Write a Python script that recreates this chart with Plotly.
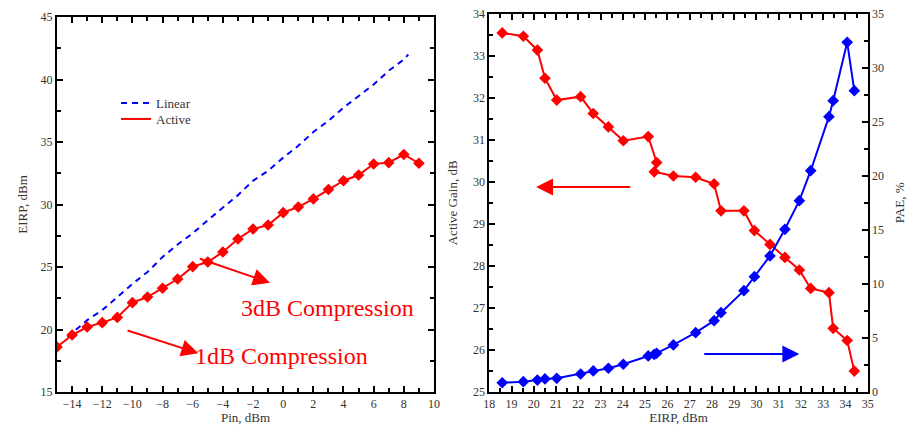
import plotly.graph_objects as go

# ---- Left panel: EIRP vs input power ----
pin_active = [-15, -14, -13, -12, -11, -10, -9, -8, -7, -6, -5, -4, -3, -2, -1,
              0, 1, 2, 3, 4, 5, 6, 7, 8, 9]
eirp_active = [18.6, 19.56, 20.2, 20.55, 20.97, 22.15, 22.6, 23.3, 24.04, 25.03,
               25.4, 26.2, 27.24, 28.04, 28.36, 29.35, 29.8, 30.45, 31.2, 31.9,
               32.36, 33.24, 33.35, 34.0, 33.3]

pin_linear = [-14.3, -13, -12, -11, -10, -9, -8, -7, -6, -5, -4, -3, -2, -1,
              0, 1, 2, 3, 4, 5, 6, 7, 8, 8.3]
eirp_linear = [19.4, 20.75, 21.55, 22.6, 23.65, 24.6, 25.8, 26.8, 27.7, 28.75,
               29.75, 30.75, 31.9, 32.7, 33.75, 34.7, 35.8, 36.7, 37.75, 38.7,
               39.6, 40.7, 41.6, 42.0]

# ---- Right panel: gain and PAE vs EIRP ----
eirp_out = [18.58, 19.53, 20.16, 20.5, 21.03, 22.1, 22.67, 23.35, 24.02, 25.14,
            25.52, 25.41, 26.27, 27.27, 28.1, 28.41, 29.44, 29.91, 30.61, 31.28,
            31.93, 32.44, 33.26, 33.45, 34.08, 34.4]
gain_db = [33.55, 33.47, 33.14, 32.47, 31.95, 32.03, 31.63, 31.31, 30.98, 31.08,
           30.46, 30.24, 30.14, 30.11, 29.95, 29.31, 29.31, 28.84, 28.51, 28.2,
           27.9, 27.46, 27.36, 26.51, 26.22, 25.49]
pae_pct = [0.83, 0.93, 1.08, 1.18, 1.24, 1.64, 1.92, 2.17, 2.54, 3.31,
           3.56, 3.45, 4.33, 5.47, 6.58, 7.32, 9.36, 10.66, 12.58, 15.05,
           17.7, 20.48, 25.49, 26.97, 32.38, 27.9]

RED = "#ff0000"
BLUE = "#0000ff"
SERIF = "Liberation Serif, Times New Roman, DejaVu Serif, serif"
TXT = "#333333"

fig = go.Figure()

fig.add_trace(go.Scatter(x=pin_linear, y=eirp_linear, mode="lines", name="Linear",
                         line=dict(color=BLUE, width=2, dash="6px,5px"),
                         xaxis="x", yaxis="y", legend="legend"))
fig.add_trace(go.Scatter(x=pin_active, y=eirp_active, mode="lines", name="Active",
                         line=dict(color=RED, width=2), xaxis="x", yaxis="y",
                         legend="legend2"))
fig.add_trace(go.Scatter(x=pin_active, y=eirp_active, mode="markers", showlegend=False,
                         marker=dict(symbol="diamond", size=9, color=RED),
                         xaxis="x", yaxis="y"))

fig.add_trace(go.Scatter(x=eirp_out, y=gain_db, mode="lines+markers", showlegend=False,
                         line=dict(color=RED, width=2),
                         marker=dict(symbol="diamond", size=9, color=RED),
                         xaxis="x2", yaxis="y2"))
fig.add_trace(go.Scatter(x=eirp_out, y=pae_pct, mode="lines+markers", showlegend=False,
                         line=dict(color=BLUE, width=2),
                         marker=dict(symbol="diamond", size=9, color=BLUE),
                         xaxis="x2", yaxis="y3"))

tickfont = dict(family=SERIF, size=12, color=TXT)
titlefont = dict(family=SERIF, size=13, color=TXT)
legfont = dict(family=SERIF, size=13, color=TXT)


def ax(**kw):
    base = dict(showgrid=False, zeroline=False, showline=True, linecolor="black",
                linewidth=2, ticks="inside", ticklen=6, tickwidth=1.5,
                tickcolor="black", tickfont=tickfont, mirror="ticks",
                automargin=False)
    base.update(kw)
    return base


def leg(y):
    return dict(x=0.126, y=y, xanchor="left", yanchor="middle",
                bgcolor="rgba(0,0,0,0)", font=legfont, itemwidth=30,
                borderwidth=0)


fig.update_layout(
    width=921, height=425,
    margin=dict(l=0, r=0, t=0, b=0, autoexpand=False),
    paper_bgcolor="white", plot_bgcolor="white",
    showlegend=True,
    legend=leg(1 - 103 / 425),
    legend2=leg(1 - 119 / 425),
    xaxis=ax(domain=[0.0619, 0.4712], range=[-15, 10], dtick=2, tick0=0,
             minor=dict(dtick=1, ticklen=4, ticks="inside", tickcolor="black"),
             title=dict(text="Pin, dBm", font=titlefont, standoff=3), anchor="y"),
    yaxis=ax(domain=[0.0776, 0.96], range=[15, 45], dtick=5,
             minor=dict(dtick=2.5, ticklen=4, ticks="inside", tickcolor="black"),
             title=dict(text="EIRP, dBm", font=titlefont, standoff=10), anchor="x"),
    xaxis2=ax(domain=[0.5313, 0.9421], range=[18, 35], dtick=1,
              minor=dict(dtick=0.5, ticklen=4, ticks="inside", tickcolor="black"),
              title=dict(text="EIRP, dBm", font=titlefont, standoff=3), anchor="y2"),
    yaxis2=ax(domain=[0.0784, 0.967], range=[25, 34], dtick=1, mirror=True,
              minor=dict(dtick=0.5, ticklen=4, ticks="inside", tickcolor="black"),
              title=dict(text="Active Gain, dB", font=titlefont, standoff=12), anchor="x2"),
    yaxis3=ax(domain=[0.0784, 0.967], range=[0, 35], dtick=5, mirror=False,
              overlaying="y2", side="right", anchor="x2",
              minor=dict(dtick=2.5, ticklen=4, ticks="inside", tickcolor="black"),
              title=dict(text="PAE, %", font=titlefont, standoff=12)),
)

# Arrows and compression labels
arrows = [
    # (head x, head y, tail x, tail y, xref, yref, color)
    (-0.88, 23.74, -5.63, 25.7, "x", "y", RED),
    (-5.63, 18.1, -10.42, 19.96, "x", "y", RED),
    (20.1, 29.88, 24.4, 29.88, "x2", "y2", RED),
    (31.93, 25.9, 27.59, 25.9, "x2", "y2", BLUE),
]
for hx, hy, tx, ty, xr, yr, col in arrows:
    fig.add_annotation(x=hx, y=hy, ax=tx, ay=ty, xref=xr, yref=yr, axref=xr, ayref=yr,
                       text="", showarrow=True, arrowhead=2, arrowsize=1.7,
                       arrowwidth=2, arrowcolor=col)

fig.add_annotation(x=-2.9, y=21.7, xref="x", yref="y", xanchor="left", yanchor="middle",
                   text="3dB Compression", showarrow=False,
                   font=dict(family=SERIF, size=24, color=RED))
fig.add_annotation(x=-5.95, y=17.85, xref="x", yref="y", xanchor="left", yanchor="middle",
                   text="1dB Compression", showarrow=False,
                   font=dict(family=SERIF, size=24, color=RED))

fig.write_html("out.html")
